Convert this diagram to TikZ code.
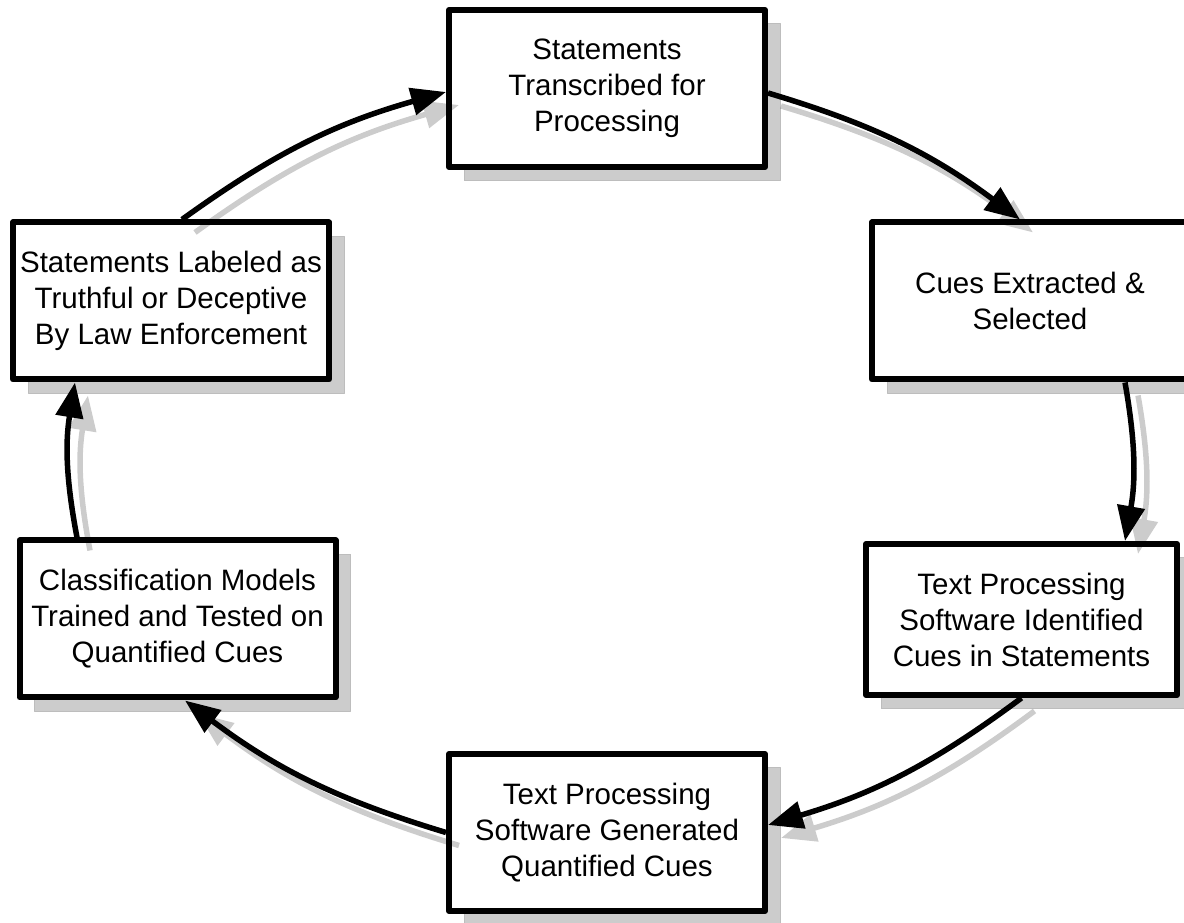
\documentclass[tikz,border=0pt]{standalone}
\usepackage{fontspec}
\setmainfont{Liberation Sans}
\usetikzlibrary{arrows.meta,shadows}
\definecolor{shadowgray}{HTML}{CCCCCC}
\definecolor{shadowedge}{HTML}{BDBDBD}
\tikzset{stage/.style={rectangle,draw,fill=white,line width=6pt,line join=round,inner sep=0pt,
		minimum width=316pt,minimum height=157pt,align=center,font=\fontsize{29.5}{36}\selectfont,
		drop shadow={shadow xshift=15pt,shadow yshift=-14pt,fill=shadowgray,draw=shadowedge,line width=1pt,opacity=1}},
	 flow/.style={line width=5.5pt,-{Triangle[length=35pt,width=27pt]}},
	 flowshadow/.style={transparency group,opacity=0.2,line cap=round,transform canvas={xshift=13pt,yshift=-13pt}},
	 flowtop/.style={}
	 }

\begin{document}
\begin{tikzpicture}[x=1pt,y=1pt] % deception cue pipeline cycle
	\useasboundingbox (0,0) rectangle (1184,923);
	\node[stage] (transcribed) at (607,834.5) {Statements\\Transcribed for\\Processing};
	\node[stage] (extracted) at (1030,622) {Cues Extracted \&\\Selected};
	\node[stage,minimum width=311pt,minimum height=151pt] (identified) at (1021.5,303.5) {Text Processing\\Software Identified\\Cues in Statements};
	\node[stage] (generated) at (607,90.5) {Text Processing\\Software Generated\\Quantified Cues};
	\node[stage] (trained) at (177.5,304) {Classification Models\\Trained and Tested on\\Quantified Cues};
	\node[stage] (labeled) at (171,622) {Statements Labeled as\\Truthful or Deceptive\\By Law Enforcement};
	\foreach \s in {flowshadow,flowtop}{
	\begin{scope}[\s]
		\draw[flow] ([xshift=11pt]labeled.north) to[bend left=10] ([yshift=-3.5pt]transcribed.west);
		\draw[flow] ([yshift=-4.5pt]transcribed.east) to[bend left=10] ([xshift=-10pt]extracted.north);
		\draw[flow] ([xshift=95pt]extracted.south) to[bend left=10] ([xshift=103.5pt]identified.north);
		\draw[flow] (identified.south) to[bend left=10] ([yshift=7.5pt]generated.east);
		\draw[flow] (generated.west) to[bend left=10] ([xshift=7.5pt]trained.south);
		\draw[flow] ([xshift=-100.5pt]trained.north) to[bend left=10] ([xshift=-96pt]labeled.south);
	\end{scope}
	}
\end{tikzpicture}
\end{document}
